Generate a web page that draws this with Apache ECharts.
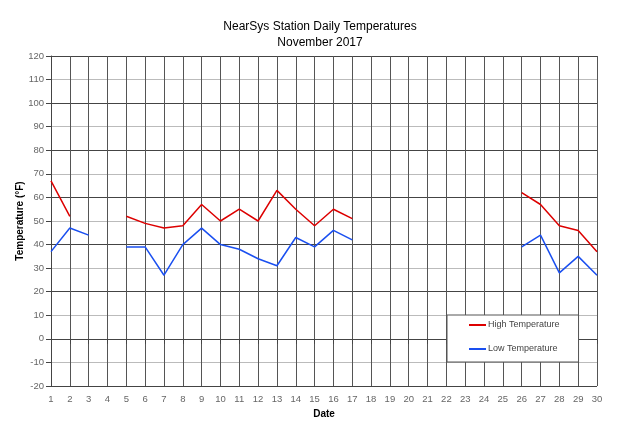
<!DOCTYPE html>
<html>
<head>
<meta charset="utf-8">
<script src="https://cdn.jsdelivr.net/npm/echarts@6/dist/echarts.min.js"></script>
<style>html,body{margin:0;padding:0;background:#fff}#c{width:640px;height:435px}</style>
</head>
<body>
<div id="c"></div>
<script>
var days = [];
for (var d = 1; d <= 30; d++) days.push(String(d));
var highTemps = [67, 52, null, null, 52, 49, 47, 48, 57, 50, 55, 50, 63, 55, 48, 55, 51, null, null, null, null, null, null, null, null, 62, 57, 48, 46, 37];
var lowTemps  = [37, 47, 44, null, 39, 39, 27, 40, 47, 40, 38, 34, 31, 43, 39, 46, 42, null, null, null, null, null, null, null, null, 39, 44, 28, 35, 27];
var seriesNames = ['High Temperature', 'Low Temperature'];

var chart = echarts.init(document.getElementById('c'), null, {renderer: 'canvas'});
var font = 'Liberation Sans, Arial, sans-serif';
var tickFont = 'Liberation Sans Narrow, Liberation Sans, Arial, sans-serif';
chart.setOption({
  animation: false,
  backgroundColor: '#fff',
  title: {
    text: 'NearSys Station Daily Temperatures\nNovember 2017',
    left: 'center', top: 14,
    textStyle: {fontFamily: font, fontSize: 12, fontWeight: 'normal', color: '#000', lineHeight: 16}
  },
  grid: {left: 51, right: 43, top: 56, bottom: 49, containLabel: false, outerBoundsMode: 'none'},
  legend: {
    orient: 'vertical',
    left: 447, top: 315,
    padding: [4, 19, 7, 22],
    icon: 'rect',
    itemWidth: 17, itemHeight: 2, itemGap: 12,
    backgroundColor: '#fff',
    borderColor: '#555', borderWidth: 1,
    textStyle: {fontFamily: font, fontSize: 9, color: '#444', lineHeight: 12, padding: [0,0,0,-3]},
    data: seriesNames
  },
  xAxis: {
    type: 'category', data: days, boundaryGap: false,
    name: 'Date', nameLocation: 'middle', nameGap: 23, nameMoveOverlap: false,
    nameTextStyle: {fontFamily: font, fontSize: 10, fontWeight: 'bold', color: '#000'},
    axisLine: {lineStyle: {color: '#444', width: 1}},
    axisTick: {show: true, length: 5, alignWithLabel: true, lineStyle: {color: '#444'}},
    axisLabel: {fontFamily: tickFont, fontSize: 9.5, color: '#666', margin: 8, interval: 0},
    splitLine: {show: true, interval: 0, lineStyle: {color: '#555', width: 1}}
  },
  yAxis: {
    type: 'value', min: -20, max: 120, interval: 10,
    name: 'Temperature (°F)', nameLocation: 'middle', nameGap: 26, nameRotate: 90, nameMoveOverlap: false,
    nameTextStyle: {fontFamily: font, fontSize: 10, fontWeight: 'bold', color: '#000'},
    axisLine: {show: true, lineStyle: {color: '#444', width: 1}},
    axisTick: {show: true, length: 5, lineStyle: {color: '#444'}},
    axisLabel: {fontFamily: tickFont, fontSize: 9.5, color: '#666', margin: 7},
    splitLine: {show: true, lineStyle: {color: ['#444', '#bbb'], width: 1}}
  },
  series: [
    {name: seriesNames[0], type: 'line', data: highTemps, symbol: 'none', connectNulls: false,
     lineStyle: {color: '#dd0000', width: 1.5}, itemStyle: {color: '#dd0000'}},
    {name: seriesNames[1], type: 'line', data: lowTemps, symbol: 'none', connectNulls: false,
     lineStyle: {color: '#1a4ff0', width: 1.5}, itemStyle: {color: '#1a4ff0'}}
  ]
});
</script>
</body>
</html>
